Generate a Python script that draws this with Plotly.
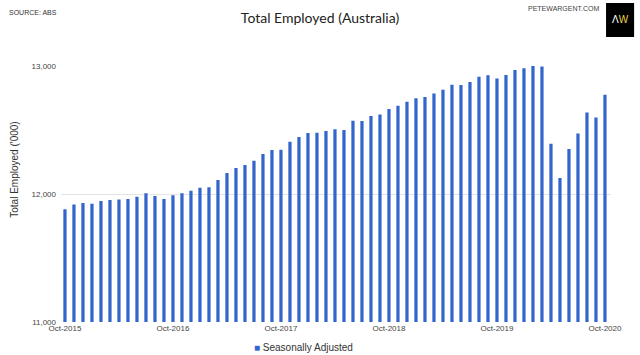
import plotly.graph_objects as go

months = ["Jan", "Feb", "Mar", "Apr", "May", "Jun", "Jul", "Aug", "Sep", "Oct", "Nov", "Dec"]
categories = []
m, y = 9, 2015
for _ in range(61):
    categories.append(f"{months[m]}-{y}")
    m += 1
    if m == 12:
        m, y = 0, y + 1

employed = [
    11880, 11917, 11930, 11924, 11945, 11953, 11958, 11961, 11979, 12005,
    11984, 11961, 11990, 12005, 12026, 12049, 12052, 12109, 12164, 12203,
    12227, 12260, 12312, 12344, 12346, 12409, 12445, 12476, 12479, 12492,
    12505, 12500, 12573, 12570, 12609, 12622, 12664, 12690, 12721, 12748,
    12757, 12786, 12815, 12854, 12851, 12875, 12916, 12927, 12903, 12930,
    12969, 12982, 13000, 12997, 12392, 12125, 12352, 12473, 12637, 12598,
    12775,
]
tick_labels = ["Oct-2015", "Oct-2016", "Oct-2017", "Oct-2018", "Oct-2019", "Oct-2020"]
y_ticks = [11000, 12000, 13000]
series_name = "Seasonally Adjusted"
bar_color = "#3366CC"

fig = go.Figure()
fig.add_trace(go.Bar(
    x=categories, y=employed, name=series_name,
    marker=dict(color=bar_color, line=dict(width=0)),
))

fig.update_layout(
    width=640, height=355,
    margin=dict(l=61, r=29, t=66, b=33, autoexpand=False),
    paper_bgcolor="white", plot_bgcolor="white",
    bargap=0.64,
    showlegend=False,
    title=dict(text="Total Employed (Australia)", x=0.5, xanchor="center", y=0.95, yanchor="middle",
               font=dict(family="Lato, Open Sans", size=14, color="#222222")),
    xaxis=dict(
        type="category", range=[-0.44, 60.67],
        tickmode="array", tickvals=tick_labels, ticktext=tick_labels,
        showgrid=False, zeroline=False, showline=False, ticks="",
        tickfont=dict(family="Liberation Sans, Arial", size=8, color="#444444"),
    ),
    yaxis=dict(
        range=[11000, 13000], tickvals=y_ticks, tickformat=",",
        showgrid=True, gridcolor="#e3e3e3", gridwidth=1, zeroline=False, showline=False,
        ticks="", ticklabelstandoff=4,
        tickfont=dict(family="Liberation Sans, Arial", size=8, color="#444444"),
    ),
    annotations=[
        dict(text="Total Employed ('000)", xref="paper", yref="paper", x=-0.084, y=0.594,
             textangle=-90, showarrow=False, xanchor="center", yanchor="middle",
             font=dict(family="Liberation Sans, Arial", size=10, color="#333333")),
        dict(text="SOURCE: ABS", xref="paper", yref="paper", x=-0.098, y=1.21,
             xanchor="left", yanchor="middle", showarrow=False,
             font=dict(family="Liberation Sans, Arial", size=7, color="#333333")),
        dict(text="PETEWARGENT.COM", xref="paper", yref="paper", x=0.982, y=1.223,
             xanchor="right", yanchor="middle", showarrow=False,
             font=dict(family="Liberation Sans, Arial", size=7, color="#444444")),
        dict(text="<span style='color:white'>Λ</span><span style='color:#e8d44d'>W</span>",
             xref="paper", yref="paper", x=1.0165, y=1.18,
             xanchor="center", yanchor="middle", showarrow=False,
             font=dict(family="Liberation Sans, Arial", size=10)),
        dict(text=f"<span style='color:{bar_color}'>■</span> {series_name}",
             xref="paper", yref="paper", x=0.44, y=-0.098,
             xanchor="center", yanchor="middle", showarrow=False,
             font=dict(family="Liberation Sans, Arial", size=10, color="#333333")),
    ],
    shapes=[
        dict(type="rect", xref="paper", yref="paper", x0=0.991, x1=1.042, y0=1.113, y1=1.246,
             fillcolor="black", line=dict(width=0), layer="below"),
    ],
)

fig.write_html("out.html")
